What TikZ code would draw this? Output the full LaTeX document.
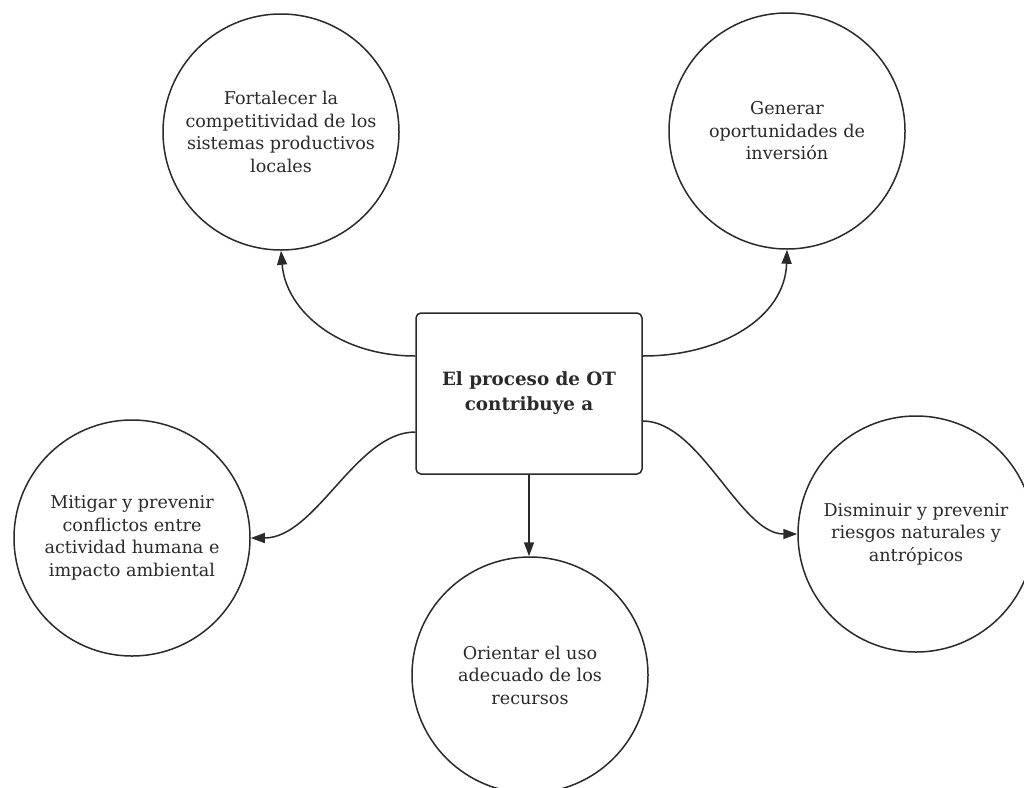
\documentclass[tikz,border=0pt]{standalone}
\usepackage{fontspec}
\setmainfont{DejaVu Serif}
\usetikzlibrary{arrows.meta}
\definecolor{ink}{HTML}{2A2A2A}
\tikzset{
  goal/.style={circle, draw=ink, line width=1.5pt, fill=white, minimum size=236pt,
    inner sep=0pt, align=center, text=ink, font=\fontsize{17.6}{22.5}\selectfont},
  hub/.style={rectangle, rounded corners=5pt, draw=ink, line width=1.5pt, fill=white,
    minimum width=226pt, minimum height=161pt, align=center, text=ink,
    font=\fontsize{18.3}{25}\selectfont\bfseries},
  link/.style={draw=ink, line width=1.5pt, -{Triangle[length=14pt,width=10pt]}}
}
\begin{document}
\begin{tikzpicture}[x=1pt,y=-1pt]
\useasboundingbox (0,0) rectangle (1024,787);
\begin{scope}
\clip (0,0) rectangle (1024,787);
% central box
\node[hub] (hub) at (529,393.5) {El proceso de OT\\contribuye a};
% goals around the box
\node[goal] (fort) at (281,132) {Fortalecer la\\competitividad de los\\sistemas productivos\\locales};
\node[goal] (inv)  at (787,131) {Generar\\oportunidades de\\inversión};
\node[goal] (mit)  at (132,538) {Mitigar y prevenir\\conflictos entre\\actividad humana e\\impacto ambiental};
\node[goal] (ries) at (916,534) {Disminuir y prevenir\\riesgos naturales y\\antrópicos};
\node[goal] (uso)  at (530,675) {Orientar el uso\\adecuado de los\\recursos};
% connectors
\draw[link] ([yshift=37.5pt]hub.west) .. controls (340,356) and (286,312) .. (fort.south);
\draw[link] ([yshift=37.5pt]hub.east) .. controls (720,356) and (785,318) .. (inv.south);
\draw[link] ([yshift=-38.5pt]hub.west) .. controls (356,432) and (316,538) .. (mit.east);
\draw[link] ([yshift=-27.5pt]hub.east) .. controls (700,421) and (740,534) .. (ries.west);
\draw[link] (hub.south) -- (hub.south |- uso.north);
\end{scope}
\end{tikzpicture}
\end{document}
